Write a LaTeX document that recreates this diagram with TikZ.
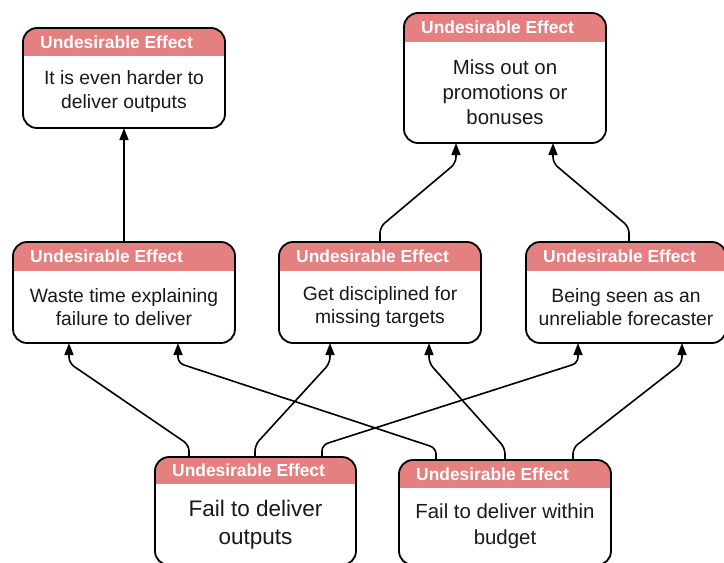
\documentclass[tikz,border=0pt]{standalone}
\usepackage{fontspec}
\setmainfont{Liberation Sans}
\usetikzlibrary{arrows.meta,calc}
\definecolor{uehead}{RGB}{229,128,128}

\tikzset{
  uebox/.style={draw=black, line width=1.8pt, rounded corners=14pt, fill=white,
    inner sep=0pt, outer sep=0pt},
  hdrtext/.style={text=white, font=\bfseries\fontsize{17.4pt}{20pt}\selectfont,
    inner sep=0pt, anchor=west},
  bodytext/.style={align=center, inner sep=0pt, text=black!90},
  conn/.style={draw=black, line width=1.6pt, rounded corners=6pt,
    -{Triangle[length=12pt,width=9pt]}},
}

% #1 name, #2 left x, #3 top y, #4 width, #5 height, #6 header height,
% #7 font size, #8 line spacing, #9 body text
\newcommand\uebox[9]{%
  \node[uebox, minimum width=#4pt, minimum height=#5pt, anchor=north west,
    path picture={\fill[uehead, sharp corners] (path picture bounding box.north west)
      rectangle ([yshift=-#6pt]path picture bounding box.north east);}]
    (#1) at (#2,#3) {};
  \node[hdrtext] at ([xshift=17pt,yshift=-#6pt/2]#1.north west) {Undesirable Effect};
  \node[bodytext, font=\fontsize{#7pt}{#8pt}\selectfont]
    at ($(#1.south)!0.5!([yshift=-#6pt]#1.north)$) {#9};
}

\begin{document}
\begin{tikzpicture}[x=1pt,y=-1pt]
\useasboundingbox (0,0) rectangle (724,563);

% boxes
\uebox{b1}{23}{28}{202}{100}{28}{19.3}{24}{It is even harder to\\deliver outputs}
\uebox{b2}{404}{13}{202}{130}{29}{20.4}{25}{Miss out on\\promotions or\\bonuses}
\uebox{b3}{13}{242}{222}{101}{29}{19.3}{23.5}{Waste time explaining\\failure to deliver}
\uebox{b4}{279}{242}{202}{101}{29}{19.3}{23.5}{Get disciplined for\\missing targets}
\uebox{b5}{526}{242}{200}{101}{29}{19.3}{23.5}{Being seen as an\\unreliable forecaster}
\uebox{b6}{155}{457}{201}{108}{27}{22.5}{28}{Fail to deliver\\outputs}
\uebox{b7}{399}{460}{212}{105}{28}{20.4}{26}{Fail to deliver within\\budget}

% middle row up to the top row
\draw[conn] ([xshift=111pt]b3.north west) -- ([xshift=101pt]b1.south west);
\draw[conn] ([xshift=101pt]b4.north west) -- ++(0pt,15pt)
  -- ([xshift=52pt,yshift=-20pt]b2.south west) -- ([xshift=52pt]b2.south west);
\draw[conn] ([xshift=103pt]b5.north west) -- ++(0pt,15pt)
  -- ([xshift=149pt,yshift=-20pt]b2.south west) -- ([xshift=149pt]b2.south west);

% bottom row up to the middle row
\draw[conn] ([xshift=34pt]b6.north west) -- ++(0pt,12pt)
  -- ([xshift=56pt,yshift=-20pt]b3.south west) -- ([xshift=56pt]b3.south west);
\draw[conn] ([xshift=100pt]b6.north west) -- ++(0pt,12pt)
  -- ([xshift=51pt,yshift=-20pt]b4.south west) -- ([xshift=51pt]b4.south west);
\draw[conn] ([xshift=167pt]b6.north west) -- ++(0pt,12pt)
  -- ([xshift=52pt,yshift=-20pt]b5.south west) -- ([xshift=52pt]b5.south west);
\draw[conn] ([xshift=37pt]b7.north west) -- ++(0pt,12pt)
  -- ([xshift=165pt,yshift=-20pt]b3.south west) -- ([xshift=165pt]b3.south west);
\draw[conn] ([xshift=106pt]b7.north west) -- ++(0pt,12pt)
  -- ([xshift=150pt,yshift=-20pt]b4.south west) -- ([xshift=150pt]b4.south west);
\draw[conn] ([xshift=174pt]b7.north west) -- ++(0pt,12pt)
  -- ([xshift=156pt,yshift=-20pt]b5.south west) -- ([xshift=156pt]b5.south west);
\end{tikzpicture}
\end{document}
